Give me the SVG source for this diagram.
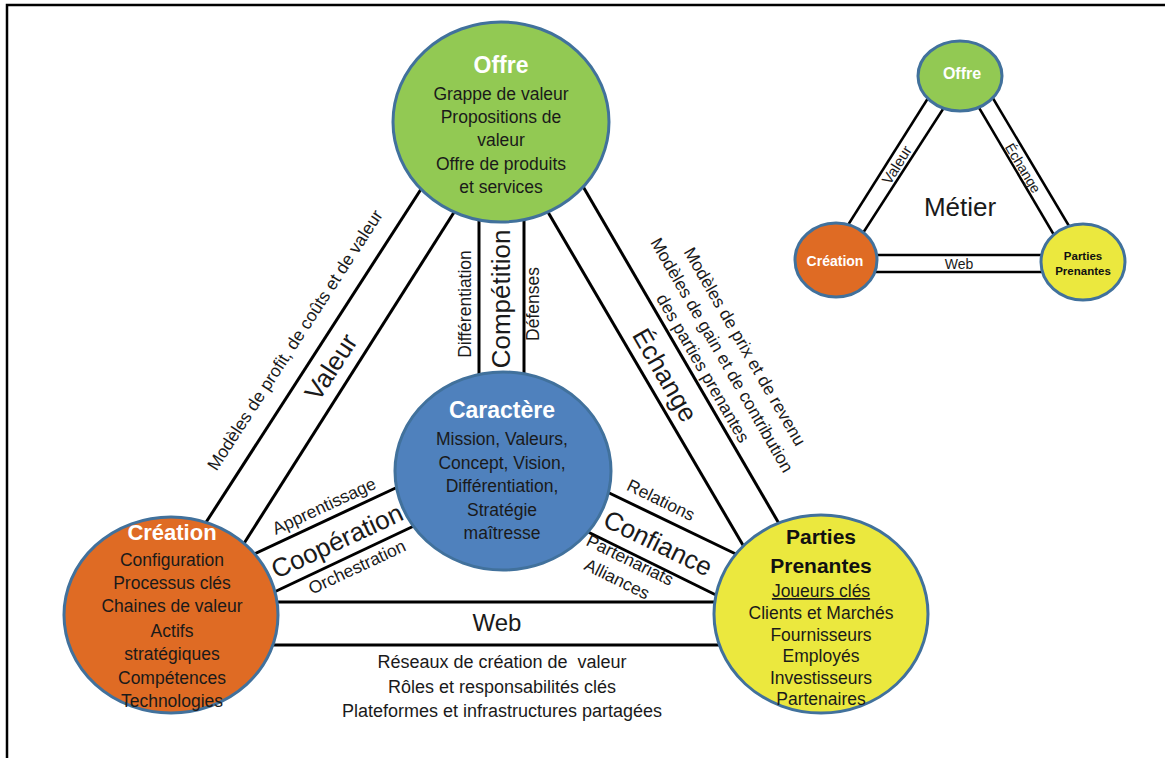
<svg xmlns="http://www.w3.org/2000/svg" width="1169" height="758" viewBox="0 0 1169 758">
<style>
.ln{stroke:#000;stroke-width:3;fill:none}
.sl{stroke:#000;stroke-width:2.5;fill:none}
.nd{stroke:#41719C;stroke-width:3}
.t{font-family:"Liberation Sans",Arial,sans-serif;fill:#1a1a1a;text-anchor:middle}
.b{font-size:17.5px}
.lb{font-size:17.5px}
.big{font-size:26px}
.ti{font-weight:bold;font-size:23px;fill:#fff}
</style>
<rect width="1169" height="758" fill="#fff"/>
<g id="frame" stroke="#000" stroke-width="2.5" fill="none">
<path d="M7 758 V5 H1165"/>
</g>
<g id="connectors">
<line class="ln" x1="425" y1="183" x2="203" y2="527"/>
<line class="ln" x1="458" y1="206" x2="243" y2="545"/>
<line class="ln" x1="479" y1="210" x2="479" y2="380"/>
<line class="ln" x1="524" y1="210" x2="524" y2="380"/>
<line class="ln" x1="581" y1="183" x2="781" y2="527"/>
<line class="ln" x1="545" y1="207" x2="747" y2="552"/>
<line class="ln" x1="252" y1="555" x2="402" y2="485"/>
<line class="ln" x1="270" y1="594" x2="416" y2="525"/>
<line class="ln" x1="603" y1="490" x2="740" y2="556"/>
<line class="ln" x1="584" y1="530" x2="718" y2="596"/>
<line class="ln" x1="265" y1="602" x2="725" y2="602"/>
<line class="ln" x1="265" y1="645" x2="725" y2="645"/>
<line class="sl" x1="930" y1="95" x2="848" y2="225"/>
<line class="sl" x1="945" y1="106" x2="863" y2="233"/>
<line class="sl" x1="991" y1="95" x2="1069" y2="226"/>
<line class="sl" x1="978" y1="106" x2="1054" y2="235"/>
<line class="sl" x1="870" y1="255" x2="1048" y2="255"/>
<line class="sl" x1="870" y1="272" x2="1048" y2="272"/>
</g>
<g id="edge-labels" class="t">
<text class="lb" transform="translate(295,340) rotate(-57)" y="6">Modèles de profit, de coûts et de valeur</text>
<text class="big" transform="translate(331,367) rotate(-57)" y="9">Valeur</text>
<text class="big" transform="translate(501,299) rotate(-90)" y="9">Compétition</text>
<text class="lb" transform="translate(465,304) rotate(-90)" y="6">Différentiation</text>
<text class="lb" transform="translate(533,304) rotate(-90)" y="6">Défenses</text>
<text class="big" transform="translate(665,375) rotate(60)" y="9">Échange</text>
<g transform="translate(722,355) rotate(60)">
<text class="lb" x="4" y="-18">Modèles de prix et de revenu</text>
<text class="lb" x="0" y="6">Modèles de gain et de contribution</text>
<text class="lb" x="2" y="29">des parties prenantes</text>
</g>
<text class="big" transform="translate(337,541) rotate(-25)" y="9">Coopération</text>
<text class="lb" transform="translate(324,506) rotate(-25)" y="6">Apprentissage</text>
<text class="lb" transform="translate(357,567) rotate(-25)" y="6">Orchestration</text>
<text class="big" transform="translate(658,543) rotate(26)" y="9">Confiance</text>
<text class="lb" transform="translate(661,500) rotate(26)" y="6">Relations</text>
<text class="lb" transform="translate(630,560) rotate(26)" y="6">Partenariats</text>
<text class="lb" transform="translate(617,579) rotate(26)" y="6">Alliances</text>
<text class="big" x="497" y="631" style="font-size:24px">Web</text>
<text class="b" x="502" y="668" style="font-size:18px">Réseaux de création de&#160; valeur</text>
<text class="b" x="502" y="693" style="font-size:18px">Rôles et responsabilités clés</text>
<text class="b" x="502" y="717" style="font-size:18px">Plateformes et infrastructures partagées</text>
<text transform="translate(897,165) rotate(-58)" y="5" style="font-size:15px">Valeur</text>
<text transform="translate(1023,168) rotate(59)" y="5" style="font-size:14px">Échange</text>
<text x="959" y="269" style="font-size:14px">Web</text>
<text x="960" y="216" style="font-size:26px">Métier</text>
</g>
<g id="offre" class="t">
<ellipse class="nd" cx="501" cy="122" rx="108" ry="100" fill="#92C953"/>
<text class="ti" x="501" y="73">Offre</text>
<text class="b" x="501" y="100">Grappe de valeur</text>
<text class="b" x="501" y="123">Propositions de</text>
<text class="b" x="501" y="146">valeur</text>
<text class="b" x="501" y="170">Offre de produits</text>
<text class="b" x="501" y="193">et services</text>
</g>
<g id="caractere" class="t">
<ellipse class="nd" cx="503" cy="471" rx="108" ry="99" fill="#4F81BD"/>
<text class="ti" x="502" y="418">Caractère</text>
<text class="b" x="502" y="445">Mission, Valeurs,</text>
<text class="b" x="502" y="469">Concept, Vision,</text>
<text class="b" x="502" y="492">Différentiation,</text>
<text class="b" x="502" y="516">Stratégie</text>
<text class="b" x="502" y="539">maîtresse</text>
</g>
<g id="creation" class="t">
<ellipse class="nd" cx="171" cy="615" rx="107" ry="98" fill="#DF6B24"/>
<text class="ti" x="172" y="540" style="font-size:22px">Création</text>
<text class="b" x="172" y="566">Configuration</text>
<text class="b" x="172" y="589">Processus clés</text>
<text class="b" x="172" y="612">Chaines de valeur</text>
<text class="b" x="172" y="637">Actifs</text>
<text class="b" x="172" y="660">stratégiques</text>
<text class="b" x="172" y="684">Compétences</text>
<text class="b" x="172" y="707">Technologies</text>
</g>
<g id="parties-prenantes" class="t">
<ellipse class="nd" cx="821" cy="614" rx="107" ry="99" fill="#EBE83E"/>
<text x="821" y="544" style="font-size:21px;font-weight:bold;fill:#111">Parties</text>
<text x="821" y="573" style="font-size:21px;font-weight:bold;fill:#111">Prenantes</text>
<text class="b" x="821" y="597" text-decoration="underline">Joueurs clés</text>
<text class="b" x="821" y="619">Clients et Marchés</text>
<text class="b" x="821" y="641">Fournisseurs</text>
<text class="b" x="821" y="662">Employés</text>
<text class="b" x="821" y="684">Investisseurs</text>
<text class="b" x="821" y="705">Partenaires</text>
</g>
<g id="mini-offre" class="t">
<ellipse class="nd" cx="960" cy="76" rx="42" ry="35" fill="#92C953" stroke-width="2.5"/>
<text x="962" y="79" style="font-size:16px;font-weight:bold;fill:#fff">Offre</text>
</g>
<g id="mini-creation" class="t">
<ellipse class="nd" cx="836" cy="260" rx="41" ry="37" fill="#DF6B24" stroke-width="2.5"/>
<text x="835" y="266" style="font-size:14px;font-weight:bold;fill:#fff">Création</text>
</g>
<g id="mini-parties" class="t">
<ellipse class="nd" cx="1083" cy="262" rx="42" ry="38" fill="#EBE83E" stroke-width="2.5"/>
<text x="1083" y="260" style="font-size:11.5px;font-weight:bold;fill:#111">Parties</text>
<text x="1083" y="275" style="font-size:11.5px;font-weight:bold;fill:#111">Prenantes</text>
</g>
</svg>
